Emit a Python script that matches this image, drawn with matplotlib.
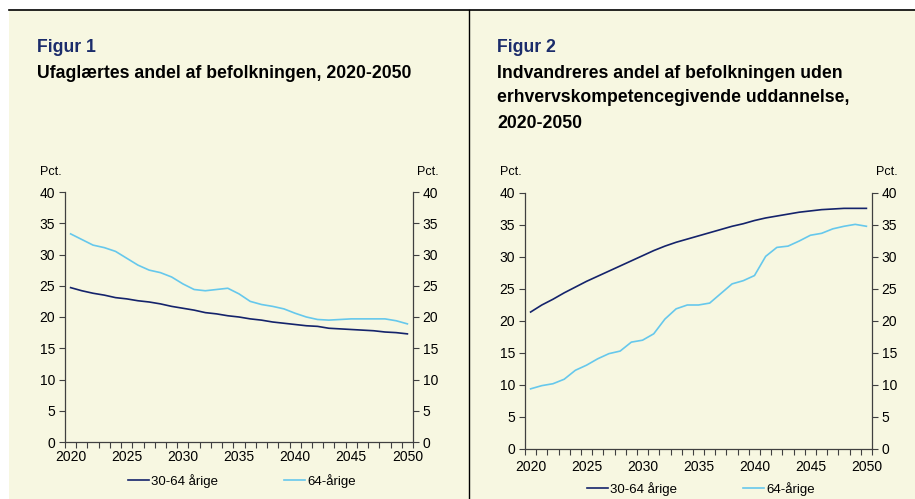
import matplotlib
matplotlib.use("Agg")
import matplotlib.pyplot as plt
from matplotlib.lines import Line2D
from matplotlib.patches import Rectangle
from matplotlib.ticker import MultipleLocator

plt.rcParams['font.family'] = ['Liberation Sans', 'DejaVu Sans']

years = list(range(2020, 2051))

# Figur 1: ufaglærtes andel
fig1_3064 = [24.7, 24.2, 23.8, 23.5, 23.1, 22.9, 22.6, 22.4, 22.1, 21.7, 21.4,
             21.1, 20.7, 20.5, 20.2, 20.0, 19.7, 19.5, 19.2, 19.0, 18.8,
             18.6, 18.5, 18.2, 18.1, 18.0, 17.9, 17.8, 17.6, 17.5, 17.3]
fig1_64 = [33.3, 32.4, 31.5, 31.1, 30.5, 29.4, 28.3, 27.5, 27.1, 26.4, 25.3,
           24.4, 24.2, 24.4, 24.6, 23.7, 22.5, 22.0, 21.7, 21.3, 20.6,
           20.0, 19.6, 19.5, 19.6, 19.7, 19.7, 19.7, 19.7, 19.4, 18.9]

# Figur 2: indvandreres andel uden erhvervskompetencegivende uddannelse
fig2_3064 = [21.4, 22.5, 23.4, 24.4, 25.3, 26.2, 27.0, 27.8, 28.6, 29.4, 30.2,
             31.0, 31.7, 32.3, 32.8, 33.3, 33.8, 34.3, 34.8, 35.2, 35.7,
             36.1, 36.4, 36.7, 37.0, 37.2, 37.4, 37.5, 37.6, 37.6, 37.6]
fig2_64 = [9.4, 9.9, 10.2, 10.9, 12.3, 13.1, 14.1, 14.9, 15.3, 16.7, 17.0,
           18.0, 20.3, 21.9, 22.5, 22.5, 22.8, 24.3, 25.8, 26.3, 27.1,
           30.1, 31.5, 31.7, 32.5, 33.4, 33.7, 34.4, 34.8, 35.1, 34.8]

series_names = ['30-64 årige', '64-årige']
xtick_labels = ['2020', '2025', '2030', '2035', '2040', '2045', '2050']

W, H = 915, 499
bg = '#F7F7E1'
dark = '#14236B'
light = '#66C8EC'
navy = '#1B2C6B'
axcol = '#404040'

fig = plt.figure(figsize=(W / 100, H / 100), dpi=100)
fig.patch.set_facecolor('white')


def px(x, y):
    # pixel coords (top-left origin) -> figure fraction
    return x / W, 1 - y / H


# cream background, top rule and divider
fig.add_artist(Rectangle(px(9, H), (W - 9) / W, (H - 10) / H,
                         transform=fig.transFigure, facecolor=bg,
                         edgecolor='none', zorder=0))
fig.add_artist(Line2D([9 / W, 1], [1 - 10 / H] * 2, transform=fig.transFigure,
                      color='black', lw=1.2))
fig.add_artist(Line2D([469 / W] * 2, [0, 1 - 10 / H], transform=fig.transFigure,
                      color='black', lw=1.0))


def make_panel(rect, s1, s2, legend_xy, legend_gap, xpad):
    l, t, r, b = rect
    ax = fig.add_axes([l / W, 1 - b / H, (r - l) / W, (b - t) / H])
    ax.set_facecolor('none')
    ax.plot(years, s1, color=dark, lw=1.2, label=series_names[0])
    ax.plot(years, s2, color=light, lw=1.2, label=series_names[1])
    ax.set_xlim(2019.5, 2050.5)
    ax.set_ylim(0, 40)
    ax.yaxis.set_major_locator(MultipleLocator(5))
    ax.set_xticks([int(v) for v in xtick_labels])
    ax.set_xticklabels(xtick_labels)
    ax.set_xticks([y - 0.5 for y in years] + [2050.5], minor=True)
    ax.tick_params(axis='x', which='major', length=0, pad=xpad, labelsize=10)
    ax.tick_params(axis='x', which='minor', length=4, direction='out',
                   color=axcol, width=0.8)
    ax.tick_params(axis='y', which='major', left=True, right=True,
                   labelleft=True, labelright=True, length=4,
                   direction='out', color=axcol, width=0.8, labelsize=10, pad=3)
    ax.spines['top'].set_visible(False)
    for s in ('left', 'right', 'bottom'):
        ax.spines[s].set_color(axcol)
        ax.spines[s].set_linewidth(0.9)
    ax.legend(ncol=2, loc='center left', frameon=False, fontsize=9.5,
              bbox_to_anchor=px(*legend_xy), bbox_transform=fig.transFigure,
              borderpad=0, borderaxespad=0, handlelength=1.6,
              handletextpad=0.15, columnspacing=legend_gap)
    fig.text(*px(l - 25, 172), 'Pct.', fontsize=9, va='center', ha='left')
    fig.text(*px(r + 4, 172), 'Pct.', fontsize=9, va='center', ha='left')
    return ax


make_panel((65, 192, 413, 442), fig1_3064, fig1_64, (128, 481), 5.0, 6)
make_panel((525, 193, 872, 449), fig2_3064, fig2_64, (587, 489), 5.0, 8)

# titles
fs = 12.7
fig.text(*px(37, 47), 'Figur 1', color=navy, fontsize=fs, fontweight='bold',
         va='center')
fig.text(*px(37, 73), 'Ufaglærtes andel af befolkningen, 2020-2050',
         fontsize=fs, fontweight='bold', va='center')
fig.text(*px(497, 47), 'Figur 2', color=navy, fontsize=fs, fontweight='bold',
         va='center')
for yy, line in zip([73, 98, 123],
                    ['Indvandreres andel af befolkningen uden',
                     'erhvervskompetencegivende uddannelse,',
                     '2020-2050']):
    fig.text(*px(497, yy), line, fontsize=fs, fontweight='bold', va='center')

fig.savefig('out.png', dpi=100, facecolor=fig.get_facecolor())
